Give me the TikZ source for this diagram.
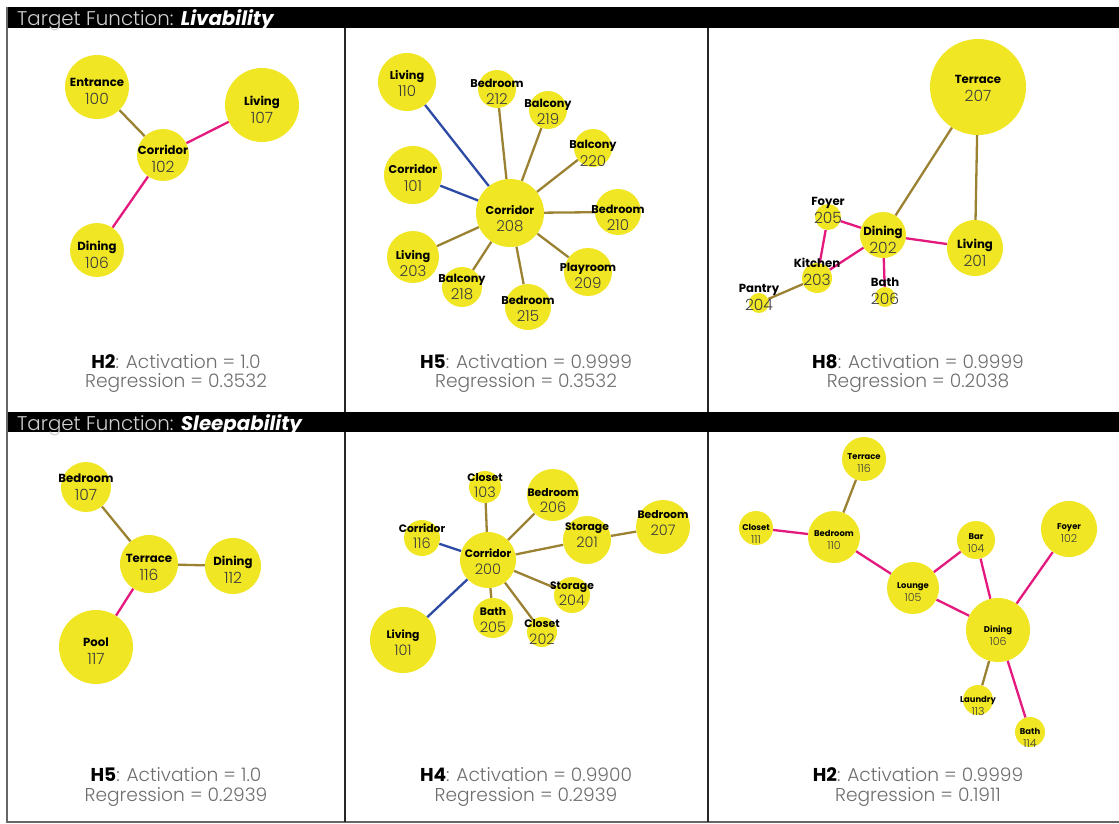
\documentclass[tikz,border=0pt]{standalone}
\usepackage{fontspec}
\setmainfont{Poppins}
\newfontfamily\popl{Poppins}[UprightFont=* Light, BoldFont=* Bold]
\usetikzlibrary{backgrounds}
\definecolor{ylw}{RGB}{240,230,35}
\definecolor{brn}{RGB}{155,130,50}
\definecolor{pnk}{RGB}{228,25,125}
\definecolor{blu}{RGB}{45,75,165}
\definecolor{numgray}{RGB}{60,60,60}
\definecolor{txtgray}{RGB}{110,110,110}
\pgfdeclarelayer{bg}
\pgfsetlayers{bg,main}
\tikzset{
  room/.style={circle, fill=ylw, inner sep=0pt},
  nm/.style={font=\bfseries\fontsize{11.7}{11.7}\selectfont, text height=0.7em, text depth=0pt, inner sep=0pt},
  nu/.style={font=\popl\fontsize{15.5}{15.5}\selectfont, text=numgray, text height=0.7em, text depth=0pt, inner sep=0pt},
  eb/.style={draw=brn, line width=2.3pt},
  ep/.style={draw=pnk, line width=2.3pt},
  el/.style={draw=blu, line width=2.3pt},
  captxt/.style={font=\popl\fontsize{18.6}{18.6}\selectfont, text=txtgray, text height=0.7em, text depth=0pt, inner sep=0pt},
  headtxt/.style={anchor=base west, inner sep=0pt, font=\fontsize{19.8}{19.8}\selectfont},
}
\def\hg{8.5}
\newcommand\RN[7]{%
  \node[room, minimum size=#4*2] (#1) at (#2,#3) {};
  \node[nm] (#1-a) at (#2,#3+#7-\hg+2) {#5};
  \node[nu] (#1-b) at (#2,#3+#7+\hg+3) {#6};
}
\begin{document}
\begin{tikzpicture}[x=1pt,y=-1pt]
\useasboundingbox (0,0) rectangle (1119,824);
% frame
\fill[black] (7,7) rectangle (1119,28);
\fill[black] (7,412) rectangle (1119,432);
\draw[black!60, line width=1.2pt] (7,7) -- (7,822) -- (1119,822);
\draw[black!85, line width=1.3pt] (345,28) -- (345,412) (708,28) -- (708,412)
  (345,432) -- (345,822) (708,432) -- (708,822);
\node[headtxt] (h1) at (17,25.5) {{\popl\color{black!18}Target Function: }{\color{white}\bfseries\itshape Livability}};
\node[headtxt] (h2) at (17,430) {{\popl\color{black!18}Target Function: }{\color{white}\bfseries\itshape Sleepability}};

% panel 1
\RN{p1e}{97}{87}{32}{Entrance}{100}{3}
\RN{p1l}{262}{105}{37}{Living}{107}{4}
\RN{p1c}{163}{155}{26}{Corridor}{102}{2}
\RN{p1d}{97}{250}{27}{Dining}{106}{3}
\begin{pgfonlayer}{bg}
\draw[eb] (p1e) -- (p1c);
\draw[ep] (p1c) -- (p1l);
\draw[ep] (p1c) -- (p1d);
\end{pgfonlayer}

% panel 2
\begingroup
\def\hg{8}
\tikzset{nm/.append style={font=\bfseries\fontsize{11.3}{11.3}\selectfont},
         nu/.append style={font=\popl\fontsize{15}{15}\selectfont}}
\RN{p2a}{407}{82}{29}{Living}{110}{0}
\RN{p2b}{497}{89}{19}{Bedroom}{212}{1.5}
\RN{p2c}{548}{110}{19}{Balcony}{219}{0}
\RN{p2d}{593}{148}{19}{Balcony}{220}{3.5}
\RN{p2e}{413}{175}{29}{Corridor}{101}{1.5}
\RN{p2f}{510}{213}{34}{Corridor}{208}{4}
\RN{p2g}{618}{212}{23}{Bedroom}{210}{3.5}
\RN{p2h}{413}{257}{26}{Living}{203}{4.5}
\RN{p2i}{462}{287}{20}{Balcony}{218}{-2}
\RN{p2j}{528}{307}{23}{Bedroom}{215}{0}
\RN{p2k}{588}{272}{24}{Playroom}{209}{1.5}
\endgroup
\begin{pgfonlayer}{bg}
\draw[el] (p2a) -- (p2f);
\draw[el] (p2e) -- (p2f);
\foreach \t in {p2b,p2c,p2d,p2g,p2h,p2i,p2j,p2k} \draw[eb] (\t) -- (p2f);
\end{pgfonlayer}

% panel 3
\RN{p3a}{978}{87}{48}{Terrace}{207}{0}
\RN{p3b}{828}{217}{13}{Foyer}{205}{-8.5}
\RN{p3c}{883}{235}{23}{Dining}{202}{3}
\RN{p3d}{975}{248}{28}{Living}{201}{3}
\RN{p3e}{817}{278}{15}{Kitchen}{203}{-8}
\RN{p3f}{885}{297}{10}{Bath}{206}{-8}
\RN{p3g}{759}{303}{10}{Pantry}{204}{-7.5}
\begin{pgfonlayer}{bg}
\draw[eb] (p3a) -- (p3c);
\draw[eb] (p3a) -- (p3d);
\draw[ep] (p3b) -- (p3c);
\draw[ep] (p3b) -- (p3e);
\draw[ep] (p3e) -- (p3c);
\draw[ep] (p3c) -- (p3d);
\draw[ep] (p3c) -- (p3f);
\draw[eb] (p3g) -- (p3e);
\end{pgfonlayer}

% panel 4
\RN{p4a}{86}{487}{25}{Bedroom}{107}{-1.5}
\RN{p4b}{149}{564}{29}{Terrace}{116}{1.5}
\RN{p4c}{233}{566}{28}{Dining}{112}{2.5}
\RN{p4d}{96}{647}{37}{Pool}{117}{2.5}
\begin{pgfonlayer}{bg}
\draw[eb] (p4a) -- (p4b);
\draw[eb] (p4b) -- (p4c);
\draw[ep] (p4b) -- (p4d);
\end{pgfonlayer}

% panel 5
\begingroup
\def\hg{7.7}
\tikzset{nm/.append style={font=\bfseries\fontsize{10.8}{10.8}\selectfont},
         nu/.append style={font=\popl\fontsize{14.5}{14.5}\selectfont}}
\RN{p5a}{485}{487}{16}{Closet}{103}{-3.5}
\RN{p5b}{553}{495}{26}{Bedroom}{206}{3.5}
\RN{p5c}{663}{527}{27}{Bedroom}{207}{-6}
\RN{p5d}{422}{538}{18}{Corridor}{116}{-3.5}
\RN{p5e}{587}{540}{24}{Storage}{201}{-7}
\RN{p5f}{488}{560}{28}{Corridor}{200}{0}
\RN{p5g}{572}{595}{18}{Storage}{204}{-3.5}
\RN{p5h}{493}{618}{20}{Bath}{205}{0}
\RN{p5i}{542}{632}{15}{Closet}{202}{-2}
\RN{p5j}{403}{640}{33}{Living}{101}{1}
\endgroup
\begin{pgfonlayer}{bg}
\foreach \t in {p5a,p5b,p5e,p5g,p5h,p5i} \draw[eb] (\t) -- (p5f);
\draw[el] (p5d) -- (p5f);
\draw[el] (p5j) -- (p5f);
\draw[eb] (p5e) -- (p5c);
\end{pgfonlayer}

% panel 6
\begingroup
\def\hg{6}
\tikzset{nm/.append style={font=\bfseries\fontsize{8.4}{8.4}\selectfont},
         nu/.append style={font=\popl\fontsize{11}{11}\selectfont}}
\RN{p6a}{864}{459}{22}{Terrace}{116}{1}
\RN{p6b}{756}{528}{17}{Closet}{111}{2.5}
\RN{p6c}{834}{537}{26}{Bedroom}{110}{0}
\RN{p6d}{976}{540}{19}{Bar}{104}{0}
\RN{p6e}{1069}{529}{28}{Foyer}{102}{0.5}
\RN{p6f}{913}{588}{26}{Lounge}{105}{1}
\RN{p6g}{998}{630}{32}{Dining}{106}{3}
\RN{p6h}{978}{700}{15}{Laundry}{113}{2.5}
\RN{p6i}{1030}{732}{15}{Bath}{114}{3}
\endgroup
\begin{pgfonlayer}{bg}
\draw[eb] (p6a) -- (p6c);
\draw[ep] (p6b) -- (p6c);
\draw[ep] (p6c) -- (p6f);
\draw[ep] (p6f) -- (p6d);
\draw[ep] (p6d) -- (p6g);
\draw[ep] (p6f) -- (p6g);
\draw[ep] (p6e) -- (p6g);
\draw[eb] (p6g) -- (p6h);
\draw[ep] (p6g) -- (p6i);
\end{pgfonlayer}

% captions
\node[captxt] (c1a) at (176,364.5) {{\bfseries\color{black}H2}: Activation = 1.0};
\node[captxt] (c1b) at (176,384) {Regression = 0.3532};
\node[captxt] (c2a) at (526,364.5) {{\bfseries\color{black}H5}: Activation = 0.9999};
\node[captxt] (c2b) at (526,384) {Regression = 0.3532};
\node[captxt] (c3a) at (918,364.5) {{\bfseries\color{black}H8}: Activation = 0.9999};
\node[captxt] (c3b) at (918,384) {Regression = 0.2038};
\node[captxt] (c4a) at (176,777.5) {{\bfseries\color{black}H5}: Activation = 1.0};
\node[captxt] (c4b) at (176,798) {Regression = 0.2939};
\node[captxt] (c5a) at (526,777.5) {{\bfseries\color{black}H4}: Activation = 0.9900};
\node[captxt] (c5b) at (526,798) {Regression = 0.2939};
\node[captxt] (c6a) at (918,777.5) {{\bfseries\color{black}H2}: Activation = 0.9999};
\node[captxt] (c6b) at (918,798) {Regression = 0.1911};
\end{tikzpicture}
\end{document}
